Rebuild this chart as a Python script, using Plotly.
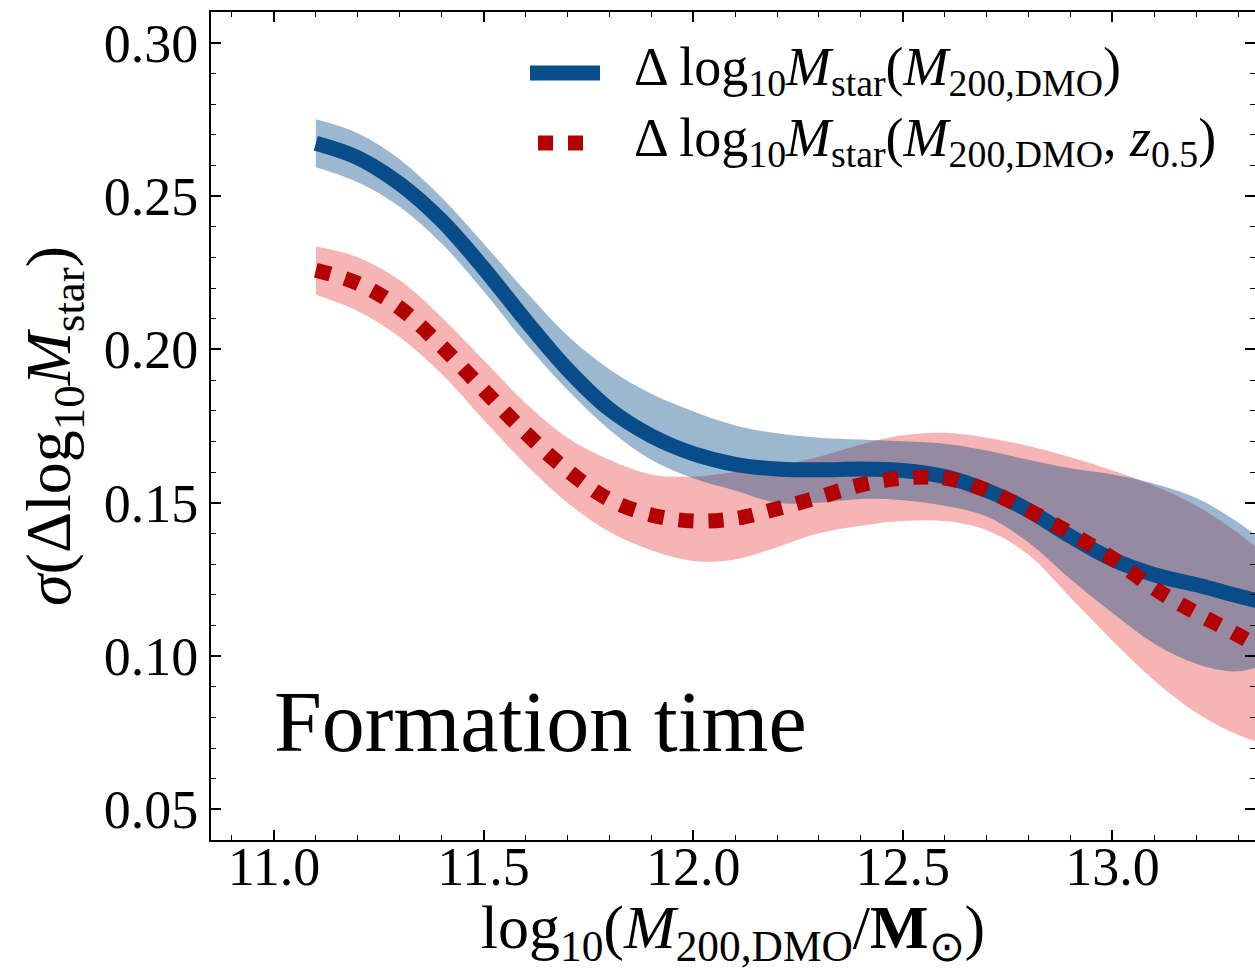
import plotly.graph_objects as go

# ---------------- data ----------------
mass = [11.1, 11.2, 11.3, 11.4, 11.5, 11.6, 11.7, 11.8, 11.9, 12.0, 12.1, 12.2,
        12.3, 12.4, 12.5, 12.6, 12.7, 12.8, 12.9, 13.0, 13.1, 13.2, 13.3, 13.4]

sigma_dmo = [0.2672, 0.2625, 0.2540, 0.2420, 0.2265, 0.2095, 0.1935, 0.1805,
             0.1718, 0.1660, 0.1625, 0.1610, 0.1607, 0.1610, 0.1605, 0.1585,
             0.1540, 0.1475, 0.1390, 0.1315, 0.1265, 0.1232, 0.1196, 0.1160]
sigma_dmo_hi = [0.2750, 0.2705, 0.2620, 0.2495, 0.2345, 0.2190, 0.2045, 0.1935,
                0.1855, 0.1798, 0.1752, 0.1726, 0.1712, 0.1706, 0.1700, 0.1692,
                0.1670, 0.1640, 0.1612, 0.1592, 0.1562, 0.1515, 0.1435, 0.1330]
sigma_dmo_lo = [0.2594, 0.2545, 0.2465, 0.2345, 0.2190, 0.2020, 0.1868, 0.1738,
                0.1640, 0.1580, 0.1540, 0.1500, 0.1500, 0.1512, 0.1508, 0.1490,
                0.1455, 0.1370, 0.1250, 0.1140, 0.1040, 0.0975, 0.0950, 0.0990]

sigma_z05 = [0.2258, 0.2215, 0.2135, 0.2010, 0.1868, 0.1728, 0.1605, 0.1510,
             0.1460, 0.1440, 0.1448, 0.1480, 0.1518, 0.1558, 0.1580, 0.1580,
             0.1540, 0.1475, 0.1400, 0.1318, 0.1220, 0.1140, 0.1068, 0.0990]
sigma_z05_hi = [0.2335, 0.2300, 0.2225, 0.2105, 0.1965, 0.1825, 0.1712, 0.1640,
                0.1592, 0.1585, 0.1600, 0.1620, 0.1650, 0.1690, 0.1720, 0.1728,
                0.1712, 0.1685, 0.1648, 0.1605, 0.1555, 0.1490, 0.1400, 0.1290]
sigma_z05_lo = [0.2178, 0.2125, 0.2040, 0.1920, 0.1770, 0.1625, 0.1500, 0.1405,
                0.1345, 0.1310, 0.1315, 0.1355, 0.1400, 0.1425, 0.1440, 0.1440,
                0.1410, 0.1330, 0.1190, 0.1050, 0.0920, 0.0815, 0.0742, 0.0700]

y_ticks = [0.05, 0.10, 0.15, 0.20, 0.25, 0.30]
x_ticks = [11.0, 11.5, 12.0, 12.5, 13.0]

label_dmo = "Δ log<sub>10</sub><i>M</i><sub>star</sub>(<i>M</i><sub>200,DMO</sub>)"
label_z05 = "Δ log<sub>10</sub><i>M</i><sub>star</sub>(<i>M</i><sub>200,DMO</sub>, <i>z</i><sub>0.5</sub>)"
x_title = "log<sub>10</sub>(<i>M</i><sub>200,DMO</sub>/<b>M</b><sub>⊙</sub>)"
y_title = "<i>σ</i>(Δlog<sub>10</sub><i>M</i><sub>star</sub>)"
panel_label = "Formation time"

# ---------------- style ----------------
BLUE = "rgb(8,76,138)"
BLUE_BAND = "rgba(8,76,138,0.4)"
RED = "rgb(179,0,0)"
RED_BAND = "rgba(230,40,40,0.35)"
FONT = "Liberation Serif"
W, H = 1255, 970
L, R, T, B = 211, 0, 12, 130
PW, PH = W - L - R, H - T - B


def px(x):
    return (x - L) / PW


def py(y):
    return (H - B - y) / PH


fig = go.Figure()

# red band
fig.add_trace(go.Scatter(x=mass, y=sigma_z05_lo, mode="lines", line=dict(width=0, shape="spline"),
                         showlegend=False, hoverinfo="skip"))
fig.add_trace(go.Scatter(x=mass, y=sigma_z05_hi, mode="lines", line=dict(width=0, shape="spline"),
                         fill="tonexty", fillcolor=RED_BAND, showlegend=False, hoverinfo="skip"))
# blue band
fig.add_trace(go.Scatter(x=mass, y=sigma_dmo_lo, mode="lines", line=dict(width=0, shape="spline"),
                         showlegend=False, hoverinfo="skip"))
fig.add_trace(go.Scatter(x=mass, y=sigma_dmo_hi, mode="lines", line=dict(width=0, shape="spline"),
                         fill="tonexty", fillcolor=BLUE_BAND, showlegend=False, hoverinfo="skip"))
# lines
fig.add_trace(go.Scatter(x=mass, y=sigma_dmo, mode="lines", name="dmo",
                         line=dict(color=BLUE, width=15, shape="spline"), showlegend=False))
fig.add_trace(go.Scatter(x=mass, y=sigma_z05, mode="lines", name="z05",
                         line=dict(color=RED, width=15, dash="dot", shape="spline"), showlegend=False))

# manual legend
fig.add_shape(type="line", xref="paper", yref="paper", x0=px(530), x1=px(600), y0=py(73), y1=py(73),
              line=dict(color=BLUE, width=15))
fig.add_shape(type="line", xref="paper", yref="paper", x0=px(538), x1=px(586), y0=py(143), y1=py(143),
              line=dict(color=RED, width=15, dash="dot"))
fig.add_annotation(xref="paper", yref="paper", x=px(632), y=py(71), xanchor="left", yanchor="middle",
                   text=label_dmo, showarrow=False, font=dict(family=FONT, size=54, color="black"))
fig.add_annotation(xref="paper", yref="paper", x=px(632), y=py(141), xanchor="left", yanchor="middle",
                   text=label_z05, showarrow=False, font=dict(family=FONT, size=54, color="black"))

fig.add_annotation(xref="paper", yref="paper", x=px(272), y=py(722), xanchor="left", yanchor="middle",
                   text=panel_label, showarrow=False, font=dict(family=FONT, size=86, color="black"))

axis_common = dict(showline=True, linecolor="black", linewidth=2, mirror="ticks", ticks="inside",
                   tickcolor="black", tickwidth=1.5, ticklen=10, showgrid=False, zeroline=False)

fig.update_xaxes(range=[10.85, 13.34], tickvals=x_ticks, ticktext=[f"{v:.1f}" for v in x_ticks],
                 minor=dict(dtick=0.1, tick0=11.0, ticks="inside", ticklen=5, tickwidth=1.2, tickcolor="black"),
                 tickfont=dict(family=FONT, size=54, color="black"), ticklabelstandoff=-22,
                 title=dict(text=x_title, font=dict(family=FONT, size=62, color="black"), standoff=10),
                 **axis_common)
fig.update_yaxes(range=[0.04, 0.31], tickvals=y_ticks, ticktext=[f"{v:.2f}" for v in y_ticks],
                 minor=dict(dtick=0.01, tick0=0.0, ticks="inside", ticklen=5, tickwidth=1.2, tickcolor="black"),
                 tickfont=dict(family=FONT, size=54, color="black"),
                 title=dict(text=y_title, font=dict(family=FONT, size=64, color="black"), standoff=12),
                 **axis_common)

fig.update_layout(width=W, height=H, margin=dict(l=L, r=R, t=T, b=B, autoexpand=False),
                  paper_bgcolor="white", plot_bgcolor="white", showlegend=False)

fig.write_html("out.html")
